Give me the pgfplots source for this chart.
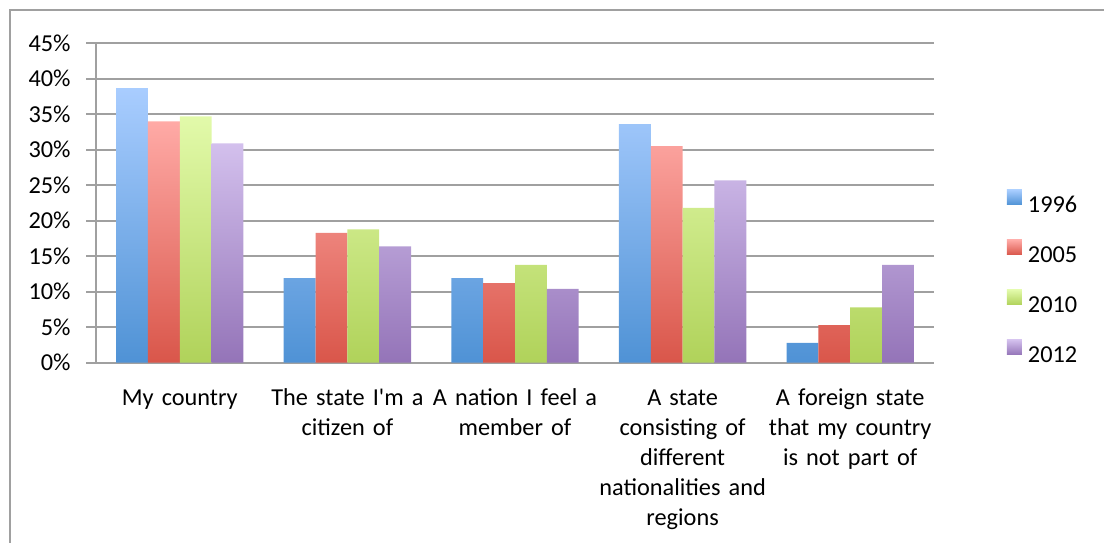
\documentclass[border=0pt]{standalone}
\usepackage{fontspec}
\setmainfont{Carlito}[Ligatures=TeXOff]
\usepackage{pgfplots}
\pgfplotsset{compat=1.18}

\definecolor{gridgray}{RGB}{160,160,160}
\definecolor{c96top}{RGB}{169,205,255}
\definecolor{c96bot}{RGB}{79,146,213}
\definecolor{c05top}{RGB}{255,170,166}
\definecolor{c05bot}{RGB}{217,86,74}
\definecolor{c10top}{RGB}{226,250,170}
\definecolor{c10bot}{RGB}{176,210,90}
\definecolor{c12top}{RGB}{211,192,237}
\definecolor{c12bot}{RGB}{148,116,184}

\begin{document}
\begin{tikzpicture}
\useasboundingbox (0,0) rectangle (552bp,-271.5bp);
% chart frame (left and top edges)
\draw[gridgray, line width=1bp] (5bp,-272bp) -- (5bp,-5bp) -- (553bp,-5bp);

\begin{axis}[
  at={(48bp,-181.35bp)}, anchor=south west,
  scale only axis,
  width=419bp, height=159.7bp,
  ybar=0pt, bar width=0.19,
  xmin=-0.5, xmax=4.5,
  ymin=0, ymax=45,
  axis x line*=bottom, axis y line*=left,
  axis line style={gridgray, line width=1bp},
  tick align=outside,
  major tick length=5bp,
  tick style={gridgray, line width=1bp},
  ymajorgrids,
  grid style={gridgray, line width=1bp},
  ytick={0,5,...,45},
  yticklabels={0\%,5\%,10\%,15\%,20\%,25\%,30\%,35\%,40\%,45\%},
  yticklabel style={font=\fontsize{12.2}{14}\selectfont, inner sep=0pt, xshift=-7.5bp},
  xtick={0,1,2,3,4},
  xtick style={draw=none},
  xticklabels={
    My country,
    The state I'm a\\citizen of,
    A nation I feel a\\member of,
    A state\\consisting of\\different\\nationalities and\\regions,
    A foreign state\\that my country\\is not part of},
  xticklabel style={font=\fontsize{12.2}{15}\selectfont, text width=86bp, align=center, inner sep=0pt, anchor=base, yshift=-16.5bp},
  extra x ticks={-0.5,0.5,1.5,2.5,3.5,4.5},
  extra x tick labels={},
  extra x tick style={major tick length=4bp, tick style={gridgray, line width=1bp, draw=gridgray}},
  legend style={at={(1.0871,0.541)}, anchor=north west, draw=none, fill=none,
    inner sep=0pt, outer sep=0pt, row sep=10.5bp,
    font=\fontsize{12.2}{14}\selectfont,
    nodes={inner sep=0pt, text height=9bp, text depth=3bp}},
  legend cell align=left,
  legend image code/.code={%
    \path[#1, draw=none] (0bp,1bp) rectangle (7.5bp,8.5bp);
    \path (10.5bp,0bp);},
]
\addplot[draw=none, top color=c96top, bottom color=c96bot] coordinates
  {(0,38.7) (1,11.9) (2,11.9) (3,33.6) (4,2.8)};
\addplot[draw=none, top color=c05top, bottom color=c05bot] coordinates
  {(0,34.0) (1,18.3) (2,11.2) (3,30.5) (4,5.3)};
\addplot[draw=none, top color=c10top, bottom color=c10bot] coordinates
  {(0,34.7) (1,18.8) (2,13.8) (3,21.8) (4,7.8)};
\addplot[draw=none, top color=c12top, bottom color=c12bot] coordinates
  {(0,30.9) (1,16.4) (2,10.4) (3,25.7) (4,13.8)};
\legend{1996,2005,2010,2012}
\end{axis}
\end{tikzpicture}
\end{document}
